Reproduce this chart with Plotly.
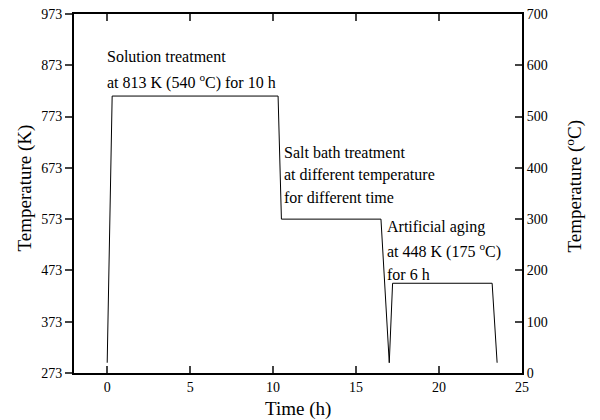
import plotly.graph_objects as go

# Heat-treatment schedule
time_h = [0, 0.3, 10.3, 10.5, 16.5, 17.0, 17.2, 23.2, 23.5]
temp_K = [293, 813, 813, 573, 573, 293, 448, 448, 293]
temp_C = [t - 273 for t in temp_K]

left_ticks = [273, 373, 473, 573, 673, 773, 873, 973]
right_ticks = [0, 100, 200, 300, 400, 500, 600, 700]
x_ticks = [0, 5, 10, 15, 20, 25]

FONT = "Liberation Serif, Times New Roman, DejaVu Serif, serif"

fig = go.Figure()
fig.add_trace(go.Scatter(x=time_h, y=temp_K, mode="lines",
                         line=dict(color="black", width=1), showlegend=False,
                         hoverinfo="skip"))
fig.add_trace(go.Scatter(x=time_h, y=temp_C, mode="lines", yaxis="y2",
                         line=dict(color="rgba(0,0,0,0)", width=0), showlegend=False,
                         hoverinfo="skip"))

ann_font = dict(family=FONT, size=16, color="black")
annotations = [
    (-0.15, 890, "Solution treatment"),
    (-0.15, 842, "at 813 K (540 <sup>o</sup>C) for 10 h"),
    (10.55, 703, "Salt bath treatment"),
    (10.55, 659, "at different temperature"),
    (10.55, 616, "for different time"),
    (16.75, 557, "Artificial aging"),
    (16.75, 511, "at 448 K (175 <sup>o</sup>C)"),
    (16.75, 466, "for 6 h"),
]
for ax, ay, txt in annotations:
    fig.add_annotation(x=ax, y=ay, xref="x", yref="y", text=txt, showarrow=False,
                       xanchor="left", yanchor="middle", font=ann_font)

title_font = dict(family=FONT, size=19, color="black")
fig.add_annotation(x=0, y=0.5, xref="paper", yref="paper", xshift=-50, yshift=5,
                   text="Temperature (K)", textangle=-90, showarrow=False,
                   xanchor="center", yanchor="middle", font=title_font)
fig.add_annotation(x=1, y=0.5, xref="paper", yref="paper", xshift=52, yshift=7,
                   text="Temperature (<sup>o</sup>C)", textangle=-90, showarrow=False,
                   xanchor="center", yanchor="middle", font=title_font)
fig.add_annotation(x=0.5, y=0, xref="paper", yref="paper", yshift=-36,
                   text="Time (h)", showarrow=False,
                   xanchor="center", yanchor="middle", font=title_font)

fig.update_layout(
    width=592, height=412,
    margin=dict(l=66, r=78, t=6, b=47),
    paper_bgcolor="white", plot_bgcolor="white",
    font=dict(family=FONT, size=14, color="black"),
    xaxis=dict(range=[-2, 25], tickvals=x_ticks, ticks="inside", ticklen=7, tickwidth=1.5,
               showline=True, linewidth=2, linecolor="black", mirror="ticks",
               showgrid=False, zeroline=False, automargin=False,
               ticklabeloverflow="allow"),
    yaxis=dict(range=[273, 973], tickvals=left_ticks, ticks="outside", ticklen=7, tickwidth=1.5,
               showline=True, linewidth=2, linecolor="black",
               showgrid=False, zeroline=False, automargin=False,
               ticklabeloverflow="allow"),
    yaxis2=dict(range=[0, 700], tickvals=right_ticks, ticks="inside", ticklen=7, tickwidth=1.5,
                overlaying="y", side="right",
                showline=True, linewidth=2, linecolor="black",
                showgrid=False, zeroline=False, automargin=False,
                ticklabeloverflow="allow"),
)

fig.write_html("out.html")
